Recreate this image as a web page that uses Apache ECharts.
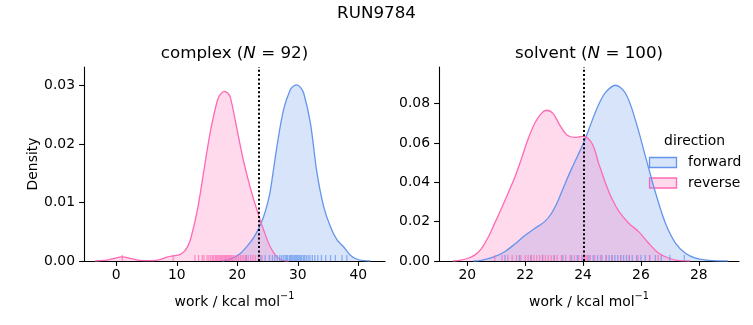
<!DOCTYPE html>
<html>
<head>
<meta charset="utf-8">
<script src="https://cdn.jsdelivr.net/npm/echarts@6/dist/echarts.min.js"></script>
<style>
  html, body { margin: 0; padding: 0; background: #fff; }
  #chart { width: 753px; height: 325px; }
</style>
</head>
<body>
<div id="chart"></div>
<script>
// ---- work distributions (kernel density curves + rug samples) ----

// complex leg, forward direction
const complexForwardX = [17.5, 19.0, 20.5, 21.6, 22.7, 23.6, 24.35, 24.9, 25.45, 26.55, 27.65, 28.76, 29.3, 29.86, 30.4, 30.96, 32.07, 33.17, 34.27, 35.37, 36.48, 37.58, 38.68, 39.8, 41.0, 42.0];
const complexForwardDensity = [0, 0.0004, 0.0013, 0.0025, 0.0040, 0.0057, 0.0076, 0.0095, 0.0120, 0.0196, 0.0259, 0.0293, 0.0299, 0.0301, 0.0297, 0.0287, 0.0236, 0.0150, 0.0093, 0.0059, 0.0036, 0.0024, 0.0010, 0.0003, 0.00005, 0];

// complex leg, reverse direction
const complexReverseX = [-3.5, -2.0, -0.5, 1.0, 2.5, 4.0, 5.5, 7.0, 8.5, 9.6, 10.5, 11.2, 11.8, 12.3, 13.4, 14.5, 15.6, 16.75, 17.3, 17.85, 18.4, 18.84, 19.95, 21.05, 22.15, 23.25, 24.35, 25.45, 26.55, 27.5, 28.5];
const complexReverseDensity = [0, 0.0001, 0.0004, 0.0007, 0.0004, 0.0001, 0.00005, 0.0002, 0.0007, 0.0009, 0.0011, 0.0016, 0.0025, 0.0038, 0.0087, 0.0156, 0.0224, 0.0276, 0.0286, 0.0290, 0.0287, 0.0280, 0.0225, 0.0170, 0.0125, 0.0087, 0.0053, 0.0024, 0.0007, 0.0001, 0];

// solvent leg, forward direction
const solventForwardX = [20.2, 20.48, 20.94, 21.29, 21.64, 21.98, 22.33, 22.67, 22.9, 23.13, 23.37, 23.6, 23.83, 24.08, 24.31, 24.54, 24.78, 25.12, 25.47, 25.81, 26.16, 26.51, 26.85, 27.2, 27.54, 27.89, 28.35, 29.0];
const solventForwardDensity = [0, 0.0003, 0.0022, 0.0047, 0.0086, 0.0128, 0.0165, 0.0200, 0.0240, 0.0305, 0.0390, 0.0468, 0.0540, 0.0623, 0.0712, 0.0795, 0.0857, 0.0893, 0.0851, 0.0716, 0.0529, 0.0344, 0.0191, 0.0090, 0.0039, 0.0014, 0.0003, 0];

// solvent leg, reverse direction
const solventReverseX = [19.5, 19.67, 20.02, 20.25, 20.48, 20.71, 20.94, 21.18, 21.4, 21.64, 21.87, 22.1, 22.33, 22.56, 22.73, 22.96, 23.19, 23.43, 23.71, 24.0, 24.31, 24.54, 24.78, 25.01, 25.24, 25.58, 25.93, 26.27, 26.62, 26.97, 27.31, 27.7];
const solventReverseDensity = [0, 0.0002, 0.0014, 0.0030, 0.0062, 0.0118, 0.0190, 0.0268, 0.0342, 0.0425, 0.0520, 0.0620, 0.0700, 0.0750, 0.0766, 0.0750, 0.0692, 0.0642, 0.0628, 0.0633, 0.0597, 0.0496, 0.0394, 0.0312, 0.0252, 0.0192, 0.0148, 0.0090, 0.0039, 0.0014, 0.0002, 0];

// individual work values (rug)
const complexForwardWork = [21.5, 23.9, 24.6, 25.3, 25.8, 26.2, 26.6, 27.0, 27.3, 27.6, 27.9, 28.1, 28.3, 28.6, 28.8, 29.0, 29.2, 29.4, 29.6, 29.8, 30.0, 30.2, 30.4, 30.6, 30.9, 31.1, 31.4, 31.7, 32.0, 32.4, 32.8, 33.3, 33.9, 34.6, 35.4, 36.2, 37.3, 38.1];
const complexReverseWork = [1.0, 9.4, 13.0, 13.6, 14.2, 14.5, 15.0, 15.3, 15.6, 15.9, 16.1, 16.4, 16.6, 16.8, 17.0, 17.2, 17.4, 17.6, 17.8, 18.0, 18.1, 18.3, 18.5, 18.7, 18.9, 19.1, 19.3, 19.6, 19.9, 20.2, 20.5, 20.8, 21.1, 21.4, 21.8, 22.2, 22.6, 23.0, 23.5, 24.1];
const solventForwardWork = [21.3, 21.8, 22.2, 22.6, 23.0, 23.3, 23.6, 23.8, 24.0, 24.2, 24.35, 24.5, 24.65, 24.8, 24.9, 25.0, 25.1, 25.2, 25.3, 25.4, 25.5, 25.6, 25.7, 25.85, 26.0, 26.15, 26.3, 26.5, 26.7, 27.0, 27.5];
const solventReverseWork = [20.95, 21.2, 21.4, 21.55, 21.7, 21.85, 22.0, 22.1, 22.2, 22.3, 22.4, 22.5, 22.6, 22.7, 22.8, 22.9, 23.0, 23.1, 23.25, 23.4, 23.55, 23.7, 23.85, 23.95, 24.05, 24.1, 24.15, 24.25, 24.4, 24.6, 24.8, 25.0, 25.3, 25.6, 25.9, 26.3, 26.6];

// free-energy estimates (dotted lines)
const complexEstimate = 23.62;
const solventEstimate = 24.03;

// tick labels
const complexXTicks = [0, 10, 20, 30, 40];
const complexYTicks = [0, 0.01, 0.02, 0.03];
const solventXTicks = [20, 22, 24, 26, 28];
const solventYTicks = [0, 0.02, 0.04, 0.06, 0.08];

const directions = ['forward', 'reverse'];

// ---- styling ----
const FONT = 'DejaVu Sans';
const FS = 13.9;
const BLUE = '#6495ED';
const PINK = '#FF69B4';
const BLUE_FILL = 'rgba(100,149,237,0.25)';
const PINK_FILL = 'rgba(255,105,180,0.25)';

const pairs = (xs, ys) => xs.map((x, i) => [x, ys[i]]);

function xAxisCfg(gridIndex, min, max, ticks) {
  return {
    type: 'value', gridIndex, min, max,
    axisLine: { show: true, onZero: false, lineStyle: { color: '#000', width: 1.1 } },
    axisTick: { show: true, length: 4.9, customValues: ticks, lineStyle: { color: '#000', width: 1.1 } },
    axisLabel: { show: true, customValues: ticks, margin: 7, color: '#000', fontSize: FS, fontFamily: FONT,
                 formatter: v => String(v) },
    splitLine: { show: false },
    name: '{n|work / kcal mol}{s|\u22121}',
    nameLocation: 'middle', nameGap: 30,
    nameTextStyle: {
      color: '#000', fontFamily: FONT,
      rich: {
        n: { fontSize: FS, fontFamily: FONT, color: '#000', lineHeight: 18, verticalAlign: 'bottom' },
        s: { fontSize: 9.7, fontFamily: FONT, color: '#000', lineHeight: 18, verticalAlign: 'top' }
      }
    }
  };
}

function yAxisCfg(gridIndex, max, ticks, name) {
  return {
    type: 'value', gridIndex, min: 0, max,
    axisLine: { show: true, onZero: false, lineStyle: { color: '#000', width: 1.1 } },
    axisTick: { show: true, length: 4.9, customValues: ticks, lineStyle: { color: '#000', width: 1.1 } },
    axisLabel: { show: true, customValues: ticks, margin: 9, color: '#000', fontSize: FS, fontFamily: FONT,
                 formatter: v => v.toFixed(2) },
    splitLine: { show: false },
    name: name || '',
    nameLocation: 'middle', nameGap: 44, nameRotate: 90,
    nameTextStyle: { color: '#000', fontSize: FS, fontFamily: FONT }
  };
}

function kde(name, idx, data, color, fill, estimate) {
  const s = {
    type: 'line', name, xAxisIndex: idx, yAxisIndex: idx,
    data, smooth: 0.35, showSymbol: false, symbol: 'none', silent: true,
    lineStyle: { color, width: 1.3 },
    areaStyle: { color: fill, opacity: 1, origin: 'start' },
    itemStyle: { color }
  };
  if (estimate !== undefined) {
    s.markLine = {
      silent: true, symbol: ['none', 'none'], label: { show: false },
      lineStyle: { color: '#000', width: 2, type: [2, 2.3] },
      data: [{ xAxis: estimate }]
    };
  }
  return s;
}

function rug(name, idx, values, color) {
  return {
    type: 'scatter', name, xAxisIndex: idx, yAxisIndex: idx, silent: true,
    data: values.map(v => [v, 0]),
    symbol: 'rect', symbolSize: [1.3, 6], symbolOffset: [0, -3],
    itemStyle: { color, opacity: 0.7 },
    z: 3
  };
}

const titleRich = {
  n: { fontSize: 16.7, fontFamily: FONT, color: '#000' },
  i: { fontSize: 16.7, fontFamily: FONT, color: '#000', fontStyle: 'italic' }
};

function label(x, y, text, opts) {
  return {
    type: 'text', x, y, silent: true,
    style: Object.assign({
      text, fill: '#000', fontSize: FS, fontFamily: FONT,
      align: 'left', verticalAlign: 'middle', textAlign: 'left', textVerticalAlign: 'middle'
    }, opts || {})
  };
}

const chart = echarts.init(document.getElementById('chart'), null, { renderer: 'canvas' });

chart.setOption({
  animation: false,
  backgroundColor: '#fff',
  grid: [
    { left: 84, top: 67, width: 301, height: 194, containLabel: false },
    { left: 439, top: 67, width: 300, height: 194, containLabel: false }
  ],
  xAxis: [
    xAxisCfg(0, -5.33, 44.4, complexXTicks),
    xAxisCfg(1, 19.02, 29.39, solventXTicks)
  ],
  yAxis: [
    yAxisCfg(0, 0.03315, complexYTicks, 'Density'),
    yAxisCfg(1, 0.09857, solventYTicks, '')
  ],
  series: [
    kde(directions[0], 0, pairs(complexForwardX, complexForwardDensity), BLUE, BLUE_FILL, complexEstimate),
    kde(directions[1], 0, pairs(complexReverseX, complexReverseDensity), PINK, PINK_FILL),
    kde(directions[0], 1, pairs(solventForwardX, solventForwardDensity), BLUE, BLUE_FILL, solventEstimate),
    kde(directions[1], 1, pairs(solventReverseX, solventReverseDensity), PINK, PINK_FILL),
    rug(directions[0], 0, complexForwardWork, BLUE),
    rug(directions[1], 0, complexReverseWork, PINK),
    rug(directions[0], 1, solventForwardWork, BLUE),
    rug(directions[1], 1, solventReverseWork, PINK)
  ],
  graphic: [
    label(376.5, 13.5, 'RUN9784', { fontSize: 16.7, align: 'center', textAlign: 'center' }),
    label(234.5, 53.5, '{n|complex (}{i|N}{n| = 92)}', { rich: titleRich, align: 'center', textAlign: 'center' }),
    label(589, 53.5, '{n|solvent (}{i|N}{n| = 100)}', { rich: titleRich, align: 'center', textAlign: 'center' }),
    // legend
    label(694.5, 141.5, 'direction', { align: 'center', textAlign: 'center' }),
    { type: 'rect', silent: true, shape: { x: 649.5, y: 157.5, width: 27, height: 10 },
      style: { fill: BLUE_FILL, stroke: BLUE, lineWidth: 1.3 } },
    label(688, 162, directions[0]),
    { type: 'rect', silent: true, shape: { x: 649.5, y: 178, width: 27, height: 10 },
      style: { fill: PINK_FILL, stroke: PINK, lineWidth: 1.3 } },
    label(688, 183, directions[1])
  ]
});
</script>
</body>
</html>
